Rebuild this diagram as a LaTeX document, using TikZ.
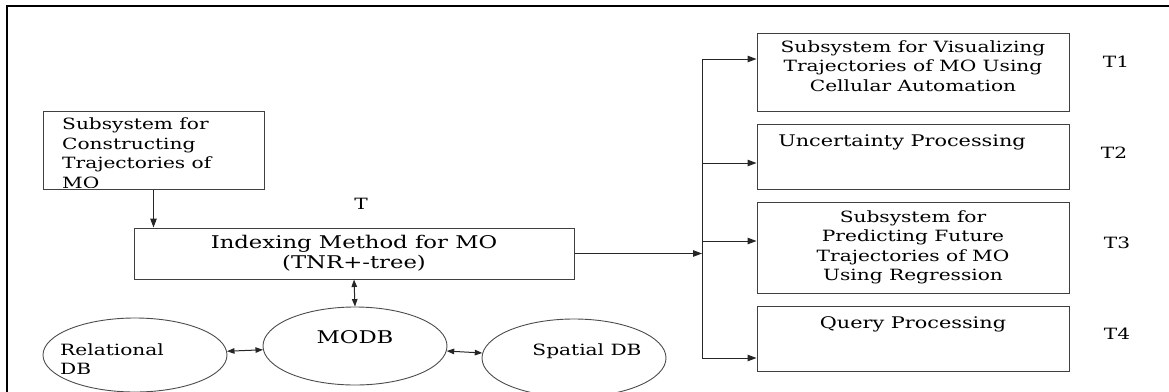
\documentclass[tikz,border=0pt]{standalone}
\usepackage{fontspec}
\setmainfont[FakeStretch=1.3]{DejaVu Serif}
\usepgflibrary{shapes}
\usetikzlibrary{arrows.meta}

\begin{document}
\begin{tikzpicture}[x=1pt,y=-1pt]
	 \tikzstyle{block}=[draw,line width=1pt,black!75,text=black,inner sep=0pt,align=center,font=\fontsize{15.5}{19.5}\selectfont]
	 \tikzstyle{db}=[ellipse,draw,line width=0.9pt,black!70,inner sep=0pt,minimum width=184pt,minimum height=78pt]
	 \tikzstyle{txt}=[inner sep=0pt,align=center,font=\fontsize{15.5}{19.5}\selectfont]
	 \tikzstyle{big txt}=[txt,font=\fontsize{17.5}{20}\selectfont]
	 \tikzstyle{edge}=[draw,line width=1pt,black!85]
	 \tikzstyle{link}=[edge,-{Triangle[length=9pt,width=6.5pt]}]
	 \tikzstyle{both link}=[edge,{Triangle[length=7.5pt,width=5.5pt]}-{Triangle[length=7.5pt,width=5.5pt]}]

	 \useasboundingbox (0,0) rectangle (1169,391);
	 \draw[line width=1.3pt] (7,430) -- (7,6) -- (1200,6);

	 % left part
	 \node[block,minimum width=221pt,minimum height=78pt] (cons) at (153.5,150) {};
	 \begin{scope}
	 \clip (cons.north west) rectangle ([yshift=2pt]cons.south east);
	 \node[txt,align=left,anchor=north west] (consL) at (62,118) {Subsystem for\\Constructing\\Trajectories of\\MO};
	 \end{scope}
	 \node[block,font=\fontsize{17.5}{20}\selectfont,minimum width=440pt,minimum height=51pt] (idx) at (354,253.5) {Indexing Method for MO\\(TNR+-tree)};
	 \node[txt] (tlab) at (361,204) {T};

	 \node[db,minimum height=74pt] (rel) at (135,355) {};
	 \node[txt,align=left,anchor=west] (relL) at (60,359) {Relational\\DB};
	 \node[db] (modb) at (355,346) {};
	 \node[big txt] (modbL) at (355,337) {MODB};
	 \node[db] (spat) at (574,358) {};
	 \node[txt] (spatL) at (587,351) {Spatial DB};

	 % right part
	 \node[block,minimum width=312pt,minimum height=78pt] (t1) at (913,72) {};
	 \node[txt] (t1L) at (913,66) {Subsystem for Visualizing\\Trajectories of MO Using\\Cellular Automation};
	 \node[block,minimum width=312pt,minimum height=65pt] (t2) at (913,156.5) {};
	 \node[txt,font=\fontsize{16}{19.5}\selectfont] (t2L) at (902,142) {Uncertainty Processing};
	 \node[block,minimum width=312pt,minimum height=91pt] (t3) at (913,247.5) {Subsystem for\\Predicting Future\\Trajectories of MO\\Using Regression};
	 \node[block,minimum width=312pt,minimum height=65pt] (t4) at (913,338.5) {};
	 \node[txt,font=\fontsize{16}{19.5}\selectfont] (t4L) at (913,324) {Query Processing};

	 \node[txt] (n1) at (1116,62) {T1};
	 \node[txt] (n2) at (1114,153) {T2};
	 \node[txt] (n3) at (1117,243) {T3};
	 \node[txt] (n4) at (1117,334) {T4};

	 \coordinate (hub) at (702,253.5);
	 \coordinate (b1) at (702,59);
	 \coordinate (b2) at (702,163);
	 \coordinate (b3) at (702,241);
	 \coordinate (b4) at (702,358);

	 \draw[link] (cons) -- (cons |- idx.north);
	 \draw[both link] (idx.south) -- (modb.north);
	 \draw[both link] (rel) -- (modb);
	 \draw[both link] (modb) -- (spat);
	 \draw[link] (idx.east) -- (hub);
	 \draw[edge] (b1) -- (b4);
	 \draw[link] (b1) -- (b1 -| t1.west);
	 \draw[link] (b2) -- (b2 -| t2.west);
	 \draw[link] (b3) -- (b3 -| t3.west);
	 \draw[link] (b4) -- (b4 -| t4.west);
 \end{tikzpicture}
\end{document}
